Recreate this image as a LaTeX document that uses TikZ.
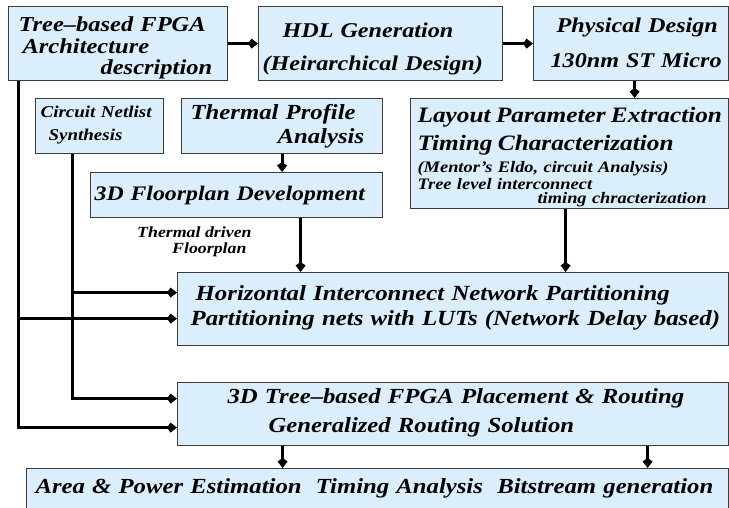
\documentclass[tikz,border=0pt]{standalone}
\usepackage{fontspec}
\setmainfont{Liberation Serif}[FakeStretch=1.15]
\usetikzlibrary{arrows.meta}

\definecolor{boxblue}{RGB}{218,238,252}
\definecolor{boxline}{RGB}{60,60,60}
\lineskiplimit=-100pt

\begin{document}
\begin{tikzpicture}[x=1pt,y=-1pt,
    blk/.style={draw=boxline, fill=boxblue, line width=1.2pt, anchor=north west, inner sep=0pt, align=left},
    arr/.style={line width=3pt, -{Kite[length=10pt,width=10pt,inset=3.5pt]}}]
  \useasboundingbox (0,0) rectangle (729,507);

  % top row
  \node[blk, font=\fontsize{21.3}{21.5}\selectfont\bfseries\itshape, text width=219pt, text height=25pt, text depth=49pt] (tree) at (8,6)
    {\hspace*{10pt}Tree--based FPGA\\ \hspace*{14pt}Architecture\\ \hspace*{92pt}description};
  \node[blk, font=\fontsize{21}{33}\selectfont\bfseries\itshape, text width=244pt, text height=31pt, text depth=43pt] (hdl) at (258,6)
    {\hspace*{24pt}HDL Generation\\ \hspace*{4pt}(Heirarchical Design)};
  \node[blk, font=\fontsize{21}{35}\selectfont\bfseries\itshape, text width=195pt, text height=26pt, text depth=48pt] (phys) at (533,6)
    {\hspace*{23pt}Physical Design\\ \hspace*{17pt}130nm ST Micro};

  % second row
  \node[blk, font=\fontsize{16.5}{23}\selectfont\bfseries\itshape, text width=128pt, text height=19pt, text depth=36pt] (net) at (35,98)
    {\hspace*{5pt}Circuit Netlist\\ \hspace*{13pt}Synthesis};
  \node[blk, font=\fontsize{21.5}{24}\selectfont\bfseries\itshape, text width=201pt, text height=21pt, text depth=34pt] (therm) at (181,98)
    {\hspace*{9pt}Thermal Profile\\ \hspace*{96pt}Analysis};
  \node[blk, font=\fontsize{20.7}{22}\selectfont\bfseries\itshape, text width=292pt, text height=28pt, text depth=17pt] (floor) at (90,172)
    {\hspace*{4pt}3D Floorplan Development};
  \node[blk, font=\fontsize{16}{14}\selectfont\bfseries\itshape, text width=318pt, text height=24pt, text depth=86pt] (layout) at (410,98)
    {\hspace*{7pt}{\fontsize{22}{14}\selectfont Layout Parameter Extraction}\\[7pt]
     \hspace*{7pt}{\fontsize{22}{14}\selectfont Timing Characterization}\\[5pt]
     \hspace*{7pt}(Mentor's Eldo, circuit Analysis)\\[2pt]
     \hspace*{7pt}Tree level interconnect\\[0pt]
     \hspace*{127pt}timing chracterization};

  \node[font=\fontsize{15.5}{15.5}\selectfont\bfseries\itshape, inner sep=0pt, align=left, anchor=base west] (drv) at (137,253)
    {Thermal driven\\ \hspace*{35pt}Floorplan};

  % partitioning, placement, estimation
  \node[blk, font=\fontsize{21.6}{25}\selectfont\bfseries\itshape, text width=551pt, text height=28pt, text depth=45pt] (horiz) at (177,272)
    {\hspace*{18pt}\mbox{Horizontal Interconnect Network Partitioning}\\
     \hspace*{13pt}\mbox{Partitioning nets with LUTs (Network Delay based)}};
  \node[blk, font=\fontsize{21.5}{29}\selectfont\bfseries\itshape, text width=551pt, text height=21pt, text depth=42pt] (place) at (177,382)
    {\hspace*{50pt}\mbox{3D Tree--based FPGA Placement \& Routing}\\
     \hspace*{91pt}\mbox{Generalized Routing Solution}};
  \node[blk, font=\fontsize{21.5}{25}\selectfont\bfseries\itshape, text width=702pt, text height=25pt, text depth=25pt] (est) at (26,468)
    {\hspace*{9pt}\mbox{Area \& Power Estimation\ \ Timing Analysis\ \ Bitstream generation}};

  % helper points
  \coordinate (trunkA) at ([xshift=10pt]tree.south west);
  \coordinate (trunkB) at ([xshift=37pt]net.south west);
  \coordinate (hIn1) at ([yshift=16.5pt]horiz.west);
  \coordinate (hIn2) at ([yshift=-9.5pt]horiz.west);
  \coordinate (pIn1) at ([yshift=15.5pt]place.west);
  \coordinate (pIn2) at ([yshift=-13.5pt]place.west);

  \draw[arr] (tree) -- (hdl);
  \draw[arr] (hdl) -- (phys);
  \draw[arr] ([xshift=3.5pt]phys.south) -- ([xshift=3.5pt]phys.south |- layout.north);
  \draw[arr] (therm.south) -- (therm.south |- floor.north);
  \draw[arr] ([xshift=64pt]floor.south) -- ([xshift=64pt]floor.south |- horiz.north);
  \draw[arr] ([xshift=-4pt]layout.south) -- ([xshift=-4pt]layout.south |- horiz.north);
  \draw[arr] (trunkA) |- (pIn2);
  \draw[arr] (trunkA |- hIn2) -- (hIn2);
  \draw[arr] (trunkB) |- (pIn1);
  \draw[arr] (trunkB |- hIn1) -- (hIn1);
  \draw[arr] ([xshift=-170.5pt]place.south) -- ([xshift=-170.5pt]place.south |- est.north);
  \draw[arr] ([xshift=194.5pt]place.south) -- ([xshift=194.5pt]place.south |- est.north);
\end{tikzpicture}
\end{document}
